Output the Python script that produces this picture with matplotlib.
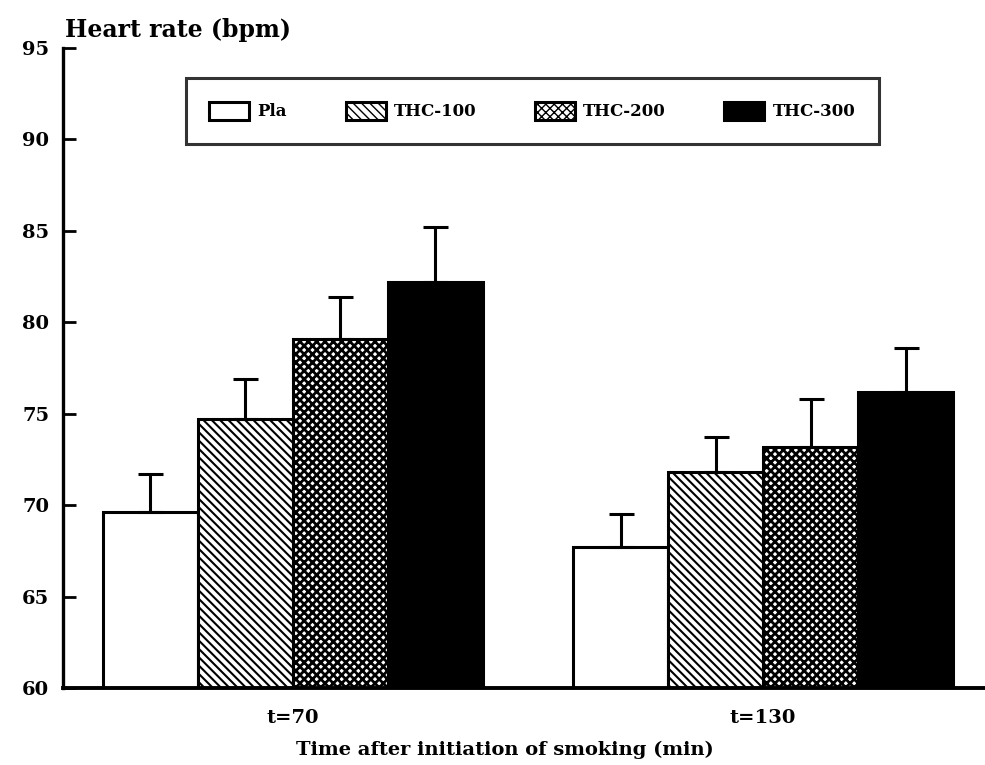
import matplotlib
matplotlib.use("Agg")
import matplotlib.pyplot as plt
import numpy as np

# Heart rate after smoking, by dose and time point
time_points = ["t=70", "t=130"]
groups = ["Pla", "THC-100", "THC-200", "THC-300"]
heart_rate = {
    "Pla":     [69.6, 67.7],
    "THC-100": [74.7, 71.8],
    "THC-200": [79.1, 73.2],
    "THC-300": [82.2, 76.2],
}
heart_rate_sem = {
    "Pla":     [2.1, 1.8],
    "THC-100": [2.2, 1.9],
    "THC-200": [2.3, 2.6],
    "THC-300": [3.0, 2.4],
}
y_ticks = [60, 65, 70, 75, 80, 85, 90, 95]

FONT = "DejaVu Serif"
plt.rcParams["font.family"] = [FONT]
plt.rcParams["font.weight"] = "bold"

styles = {
    "Pla":     dict(facecolor="white", hatch=None, hlw=1.0),
    "THC-100": dict(facecolor="white", hatch="\\\\\\\\", hlw=1.5),
    "THC-200": dict(facecolor="white", hatch="xxxx", hlw=2.0),
    "THC-300": dict(facecolor="black", hatch=None, hlw=1.0),
}

fig = plt.figure(figsize=(9.85, 7.65), dpi=100)
ax = fig.add_axes([0.064, 0.1007, 0.936, 0.8366])

centers = np.array([2.42, 7.37])
offsets = [-1.5, -0.5, 0.5, 1.5]
width = 1.0

for g, off in zip(groups, offsets):
    st = styles[g]
    with plt.rc_context({"hatch.linewidth": st["hlw"], "hatch.color": "black"}):
        ax.bar(centers + off, np.array(heart_rate[g]) - 60, width=width, bottom=60,
               facecolor=st["facecolor"], edgecolor="black", linewidth=2.2,
               hatch=st["hatch"], label=g, zorder=2)
    ax.errorbar(centers + off, heart_rate[g],
                yerr=[np.zeros(2), heart_rate_sem[g]],
                fmt="none", ecolor="black", elinewidth=2.2,
                capsize=9, capthick=2.2, zorder=3)

ax.set_xlim(0, 9.705)
ax.set_ylim(60, 95)
ax.set_yticks(y_ticks)
ax.set_yticklabels([str(v) for v in y_ticks], fontsize=14, fontweight="bold")
ax.set_xticks(centers)
ax.set_xticklabels(time_points, fontsize=14, fontweight="bold")

ax.tick_params(axis="y", direction="in", length=9, width=2, pad=10)
ax.tick_params(axis="x", length=0, pad=15)

for s in ["top", "right"]:
    ax.spines[s].set_visible(False)
ax.spines["left"].set_linewidth(2.4)
ax.spines["bottom"].set_linewidth(2.8)

ax.set_xlabel("Time after initiation of smoking (min)", fontsize=14,
              fontweight="bold")
ax.xaxis.set_label_coords(0.479, -0.082)

fig.text(0.066, 0.961, "Heart rate (bpm)", fontsize=17, fontweight="bold",
         ha="left", va="center")

leg = ax.legend(loc="center", bbox_to_anchor=(0.509, 0.9016), ncol=4,
                handlelength=2.4, handleheight=1.3,
                handletextpad=0.5, columnspacing=3.5, borderpad=1.4,
                frameon=True, fancybox=False,
                prop={"family": FONT, "weight": "bold", "size": 12})
leg.get_frame().set_edgecolor("black")
leg.get_frame().set_linewidth(2.2)

fig.savefig("out.png", dpi=100, facecolor="white")
